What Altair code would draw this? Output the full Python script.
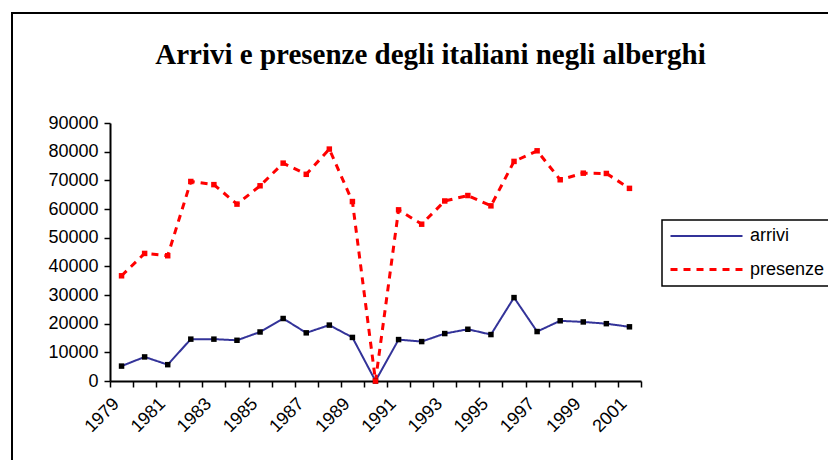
import altair as alt
import pandas as pd

years = list(range(1979, 2002))
arrivi = [5200, 8400, 5700, 14600, 14600, 14200, 17100, 21800, 16800, 19500, 15200, 0,
          14450, 13750, 16550, 18050, 16200, 29100, 17250, 21000, 20600, 20000, 18900]
presenze = [36700, 44500, 43700, 69600, 68500, 61700, 68100, 76000, 72100, 80900, 62600, 0,
            59700, 54700, 62800, 64700, 61100, 76600, 80300, 70200, 72500, 72400, 67200]
series = ["arrivi", "presenze"]
title_text = "Arrivi e presenze degli italiani negli alberghi"

rows = []
for name, vals in zip(series, [arrivi, presenze]):
    for y, v in zip(years, vals):
        rows.append({"serie": name, "anno": y, "valore": v})
df = pd.DataFrame(rows)

tick_vals = [years[0] - 0.5 + i for i in range(len(years) + 1)]

x_enc = alt.X(
    "anno:Q",
    scale=alt.Scale(domain=[years[0] - 0.5, years[-1] + 0.5], nice=False, zero=False),
    axis=alt.Axis(
        values=tick_vals,
        labelExpr="((datum.value + 0.5) % 2 == 1) && datum.value < 2001 ? '' + (datum.value + 0.5) : ''",
        labelAngle=-45,
        labelAlign="right",
        labelBaseline="middle",
        labelOffset=6,
        labelPadding=14,
        title=None,
        grid=False,
        labelOverlap=False,
    ),
)
y_enc = alt.Y(
    "valore:Q",
    scale=alt.Scale(domain=[0, 90000], nice=False),
    axis=alt.Axis(values=list(range(0, 90001, 10000)), format="d", title=None, grid=False,
                  labelPadding=6),
)

legend = alt.Legend(
    title=None,
    orient="none",
    legendX=552,
    legendY=97,
    strokeColor="black",
    padding=7,
    symbolType="M-1,0H8",
    symbolSize=256,
    symbolStrokeWidth=2.5,
    labelFont="Liberation Sans",
    labelFontSize=18,
    labelColor="black",
    labelOffset=62,
    rowPadding=15,
)

base = alt.Chart(df)

lines = base.mark_line().encode(
    x=x_enc,
    y=y_enc,
    color=alt.Color("serie:N", scale=alt.Scale(domain=series, range=["#333399", "#FF0000"]), legend=legend),
    strokeDash=alt.StrokeDash("serie:N", scale=alt.Scale(domain=series, range=[[1, 0], [7, 6]]), legend=legend),
    strokeWidth=alt.StrokeWidth("serie:N", scale=alt.Scale(domain=series, range=[2, 3]), legend=None),
)

points = base.mark_square(size=30, opacity=1).encode(
    x=x_enc,
    y=y_enc,
    fill=alt.Fill("serie:N", scale=alt.Scale(domain=series, range=["#000000", "#FF0000"]), legend=None),
)

frame = alt.Chart(alt.Data(values=[{"k": 1}])).mark_rect(
    fill="transparent", stroke="black", strokeWidth=2
).encode(
    x=alt.value(-98), x2=alt.value(800), y=alt.value(-110), y2=alt.value(500)
)

chart = alt.layer(frame, lines, points).properties(
    width=531,
    height=258,
    padding={"left": 102, "top": 115, "right": 187, "bottom": 79},
    autosize=alt.AutoSizeParams(type="none"),
    title=alt.TitleParams(
        title_text,
        font="Liberation Serif",
        fontSize=29,
        fontWeight="bold",
        color="black",
        anchor="middle",
        frame="group",
        dx=55,
        dy=98,
        offset=40,
    ),
).configure_view(strokeWidth=0).configure_axis(
    labelFont="Liberation Sans",
    labelFontSize=18,
    labelColor="black",
    domainColor="black",
    domainWidth=2,
    tickColor="black",
    tickWidth=1.5,
    tickSize=6,
).configure_legend(strokeWidth=1.5)

chart.save("out.html", embed_options={"renderer": "svg", "actions": False})
